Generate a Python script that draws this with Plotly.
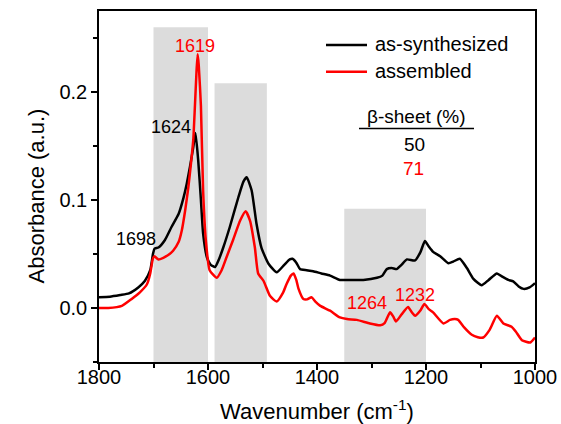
import plotly.graph_objects as go

# ---------------- data ----------------
wn_black = [1800, 1780, 1761, 1745, 1728, 1716, 1706, 1701, 1698, 1691, 1679, 1667, 1654, 1645, 1639,
            1633, 1627, 1623, 1618, 1613, 1609, 1602, 1595, 1587, 1580, 1572, 1560, 1544, 1535, 1529,
            1520, 1511, 1502, 1489, 1474, 1460, 1450, 1445, 1438, 1431, 1419, 1407, 1392, 1376, 1358,
            1339, 1315, 1290, 1280, 1272, 1263, 1254, 1245, 1235, 1220, 1210, 1202, 1195, 1187, 1174,
            1159, 1150, 1138, 1125, 1113, 1098, 1085, 1070, 1060, 1049, 1040, 1030, 1021, 1010, 1000]
abs_black = [0.010, 0.0105, 0.012, 0.0135, 0.019, 0.025, 0.035, 0.050, 0.055, 0.056, 0.063, 0.075, 0.087, 0.102, 0.115,
             0.131, 0.149, 0.162, 0.137, 0.100, 0.069, 0.047, 0.040, 0.038, 0.045, 0.056, 0.075, 0.103, 0.117, 0.121,
             0.109, 0.078, 0.056, 0.041, 0.033, 0.040, 0.045, 0.0456, 0.042, 0.036, 0.035, 0.034, 0.032, 0.030, 0.026,
             0.026, 0.026, 0.028, 0.030, 0.036, 0.037, 0.036, 0.040, 0.045, 0.044, 0.052, 0.062, 0.057, 0.052, 0.048,
             0.0415, 0.043, 0.0456, 0.037, 0.027, 0.021, 0.026, 0.032, 0.029, 0.026, 0.0247, 0.020, 0.0177, 0.019, 0.023]

wn_red = [1800, 1783, 1758, 1740, 1725, 1712, 1706, 1701, 1698, 1694, 1691, 1682, 1673, 1664, 1654,
          1648, 1642, 1636, 1631, 1627, 1624, 1621, 1619, 1617, 1613, 1609, 1604, 1597, 1584, 1575,
          1566, 1554, 1541, 1531, 1523, 1514, 1508, 1498, 1486, 1474, 1462, 1456, 1448, 1443, 1438,
          1434, 1425, 1418, 1410, 1403, 1394, 1376, 1358, 1345, 1327, 1303, 1284, 1276, 1266, 1260,
          1255, 1245, 1233, 1226, 1220, 1210, 1203, 1195, 1187, 1168, 1156, 1147, 1141, 1130, 1116,
          1105, 1095, 1083, 1070, 1058, 1043, 1035, 1024, 1009, 1000]
abs_red = [0.000, 0.000, 0.002, 0.0084, 0.0145, 0.022, 0.032, 0.046, 0.048, 0.046, 0.045, 0.0465, 0.049, 0.053, 0.061,
           0.072, 0.090, 0.112, 0.135, 0.156, 0.187, 0.220, 0.235, 0.225, 0.187, 0.109, 0.063, 0.035, 0.028, 0.035,
           0.047, 0.063, 0.081, 0.0896, 0.081, 0.056, 0.032, 0.025, 0.011, 0.006, 0.0145, 0.022, 0.030, 0.032, 0.026,
           0.018, 0.0084, 0.008, 0.0099, 0.006, 0.002, -0.0025, -0.0087, -0.0102, -0.011, -0.0143, -0.016, -0.014, -0.004, -0.008,
           -0.0125, -0.006, 0.001, -0.004, -0.0072, -0.002, 0.0037, -0.001, -0.004, -0.0143, -0.011, -0.0102, -0.011, -0.018, -0.0248,
           -0.027, -0.0273, -0.020, -0.0072, -0.0143, -0.0174, -0.022, -0.0298, -0.032, -0.0273]

region_start = [1700, 1588, 1350]
region_end = [1600, 1492, 1200]
region_top = [0.26, 0.208, 0.092]

series_names = ["as-synthesized", "assembled"]
series_colors = ["black", "red"]
beta_sheet = ["50", "71"]

peak_labels = ["1698", "1624", "1619", "1264", "1232"]
peak_label_x = [1733, 1668, 1624, 1309, 1220]
peak_label_y = [0.0642, 0.1674, 0.243, 0.0043, 0.012]
peak_label_color = ["black", "black", "red", "red", "red"]

FONT = "Arial, Liberation Sans, sans-serif"
Y_MIN, Y_MAX = -0.05, 0.275

W, H = 561, 424
L, R, T, B = 99, 26, 11, 62
pw, ph = W - L - R, H - T - B


def px_to_paper(ax, ay):
    return (ax - L) / pw, 1 - (ay - T) / ph


fig = go.Figure()

for xs, xe, top in zip(region_start, region_end, region_top):
    fig.add_shape(type="rect", xref="x", yref="y", x0=xs, x1=xe, y0=Y_MIN, y1=top,
                  fillcolor="#dcdcdc", line=dict(width=0), layer="below")

fig.add_trace(go.Scatter(x=wn_black, y=abs_black, mode="lines", name=series_names[0],
                         line=dict(color=series_colors[0], width=2.5, shape="spline", smoothing=0.5)))
fig.add_trace(go.Scatter(x=wn_red, y=abs_red, mode="lines", name=series_names[1],
                         line=dict(color=series_colors[1], width=2.5, shape="spline", smoothing=0.5)))

for t, x, y, c in zip(peak_labels, peak_label_x, peak_label_y, peak_label_color):
    fig.add_annotation(x=x, y=y, xref="x", yref="y", text=t, showarrow=False,
                       xanchor="center", yanchor="middle",
                       font=dict(family=FONT, size=18, color=c))

for text, ax, ay, col in [("β-sheet (%)", 416, 116.7, "black"),
                          (beta_sheet[0], 414, 144, "black"),
                          (beta_sheet[1], 413, 168, "red")]:
    px, py = px_to_paper(ax, ay)
    fig.add_annotation(x=px, y=py, xref="paper", yref="paper", text=text, showarrow=False,
                       xanchor="center", yanchor="middle",
                       font=dict(family=FONT, size=19, color=col))

ux0, uy = px_to_paper(359, 128.5)
ux1, _ = px_to_paper(474, 128.5)
fig.add_shape(type="line", xref="paper", yref="paper", x0=ux0, x1=ux1, y0=uy, y1=uy,
              line=dict(color="black", width=1.5))

# manual legend
for name, col, ly in zip(series_names, series_colors, [45, 71.7]):
    x0, y0 = px_to_paper(326, ly)
    x1, _ = px_to_paper(367, ly)
    fig.add_shape(type="line", xref="paper", yref="paper", x0=x0, x1=x1, y0=y0, y1=y0,
                  line=dict(color=col, width=2.5))
    tx, ty = px_to_paper(373, ly - 1)
    fig.add_annotation(x=tx, y=ty, xref="paper", yref="paper", text=name, showarrow=False,
                       xanchor="left", yanchor="middle",
                       font=dict(family=FONT, size=20, color="black"))

# axis titles placed as in the reference
yt_x, yt_y = px_to_paper(36, 196.5)
fig.add_annotation(x=yt_x, y=yt_y, xref="paper", yref="paper", text="Absorbance (a.u.)",
                   showarrow=False, textangle=-90, xanchor="center", yanchor="middle",
                   font=dict(family=FONT, size=22, color="black"))
xt_x, xt_y = px_to_paper(317, 410)
fig.add_annotation(x=xt_x, y=xt_y, xref="paper", yref="paper", text="Wavenumber (cm<sup>-1</sup>)",
                   showarrow=False, xanchor="center", yanchor="middle",
                   font=dict(family=FONT, size=22, color="black"))

fig.update_layout(
    width=W, height=H,
    margin=dict(l=L, r=R, t=T, b=B, autoexpand=False),
    plot_bgcolor="white", paper_bgcolor="white",
    font=dict(family=FONT, size=19, color="black"),
    showlegend=False,
    xaxis=dict(range=[1800, 1000], autorange=False, showline=True, linecolor="black", linewidth=1.5,
               mirror=True, ticks="outside", ticklen=6, tickwidth=1.5, tickcolor="black",
               tickmode="array", tickvals=[1800, 1600, 1400, 1200, 1000], automargin=False,
               ticklabelstandoff=-10,
               minor=dict(tickmode="array", tickvals=[1700, 1500, 1300, 1100], ticks="outside",
                          ticklen=4, tickwidth=1.5, tickcolor="black"),
               showgrid=False, zeroline=False,
               tickfont=dict(family=FONT, size=20)),
    yaxis=dict(range=[Y_MIN, Y_MAX], autorange=False, showline=True, linecolor="black", linewidth=1.5,
               mirror=True, ticks="outside", ticklen=6, tickwidth=1.5, tickcolor="black",
               tickmode="array", tickvals=[0.0, 0.1, 0.2], tickformat=".1f", automargin=False,
               minor=dict(tickmode="array", tickvals=[-0.05, 0.05, 0.15, 0.25], ticks="outside",
                          ticklen=4, tickwidth=1.5, tickcolor="black"),
               showgrid=False, zeroline=False,
               tickfont=dict(family=FONT, size=20)),
)

fig.write_html("out.html", config={"displayModeBar": False},
               post_script="document.body.style.margin='0px';document.body.style.overflow='hidden';")
